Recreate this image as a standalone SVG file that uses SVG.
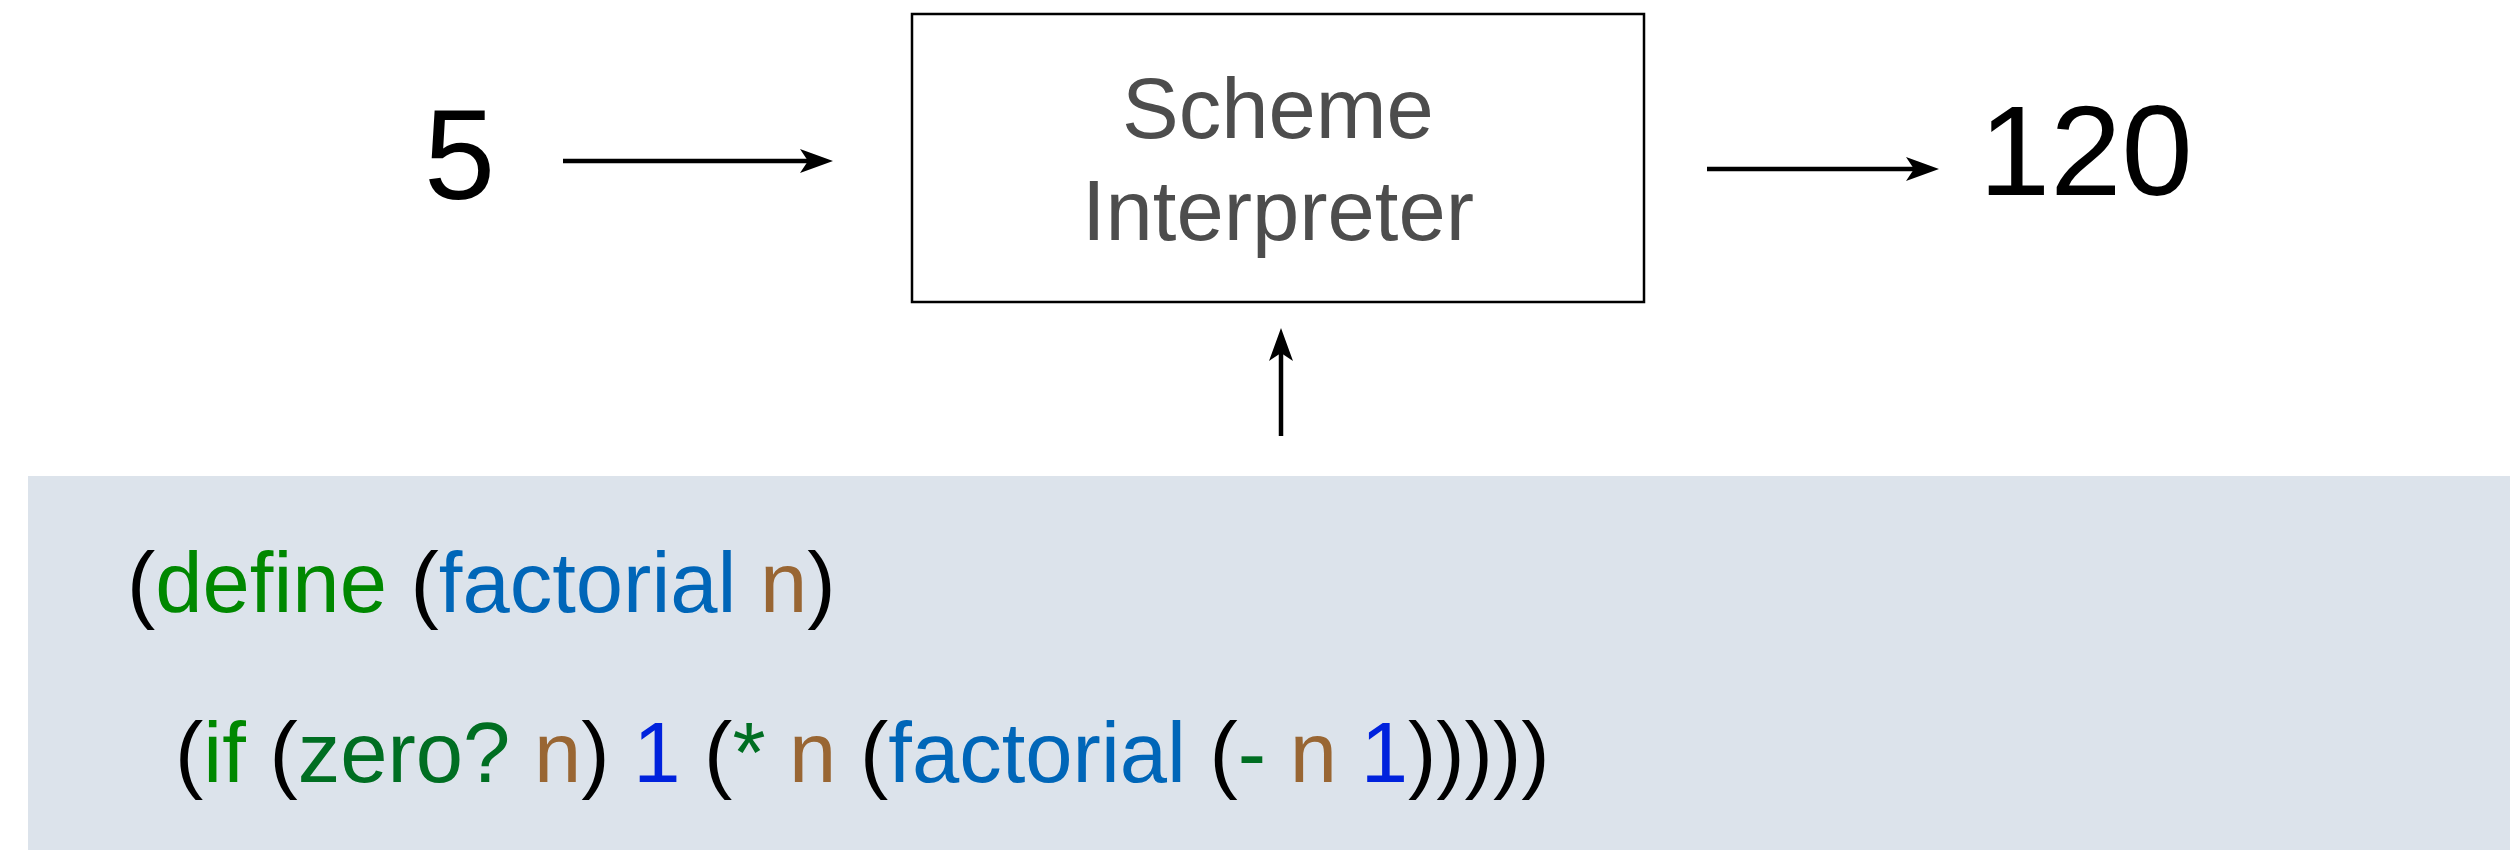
<svg xmlns="http://www.w3.org/2000/svg" width="2510" height="850" viewBox="0 0 2510 850">
  <style>
    .lbl { font-family: "Liberation Sans", Arial, sans-serif; }
    .num { font-size: 128px; fill: #000; }
    .box { fill: #fff; stroke: #000; stroke-width: 2.5; }
    .boxtxt { font-size: 85px; fill: #4d4d4d; text-anchor: middle; }
    .code { font-size: 85px; fill: #000; }
    .conn { stroke: #000; stroke-width: 4.5; fill: none; marker-end: url(#head); }
    .kw { fill: #008800; }
    .kw2 { fill: #006e22; }
    .fn { fill: #0066b8; }
    .var { fill: #996633; }
    .lit { fill: #0022dd; }
  </style>
  <defs>
    <marker id="head" viewBox="-34 -13 35 26" refX="-25" refY="0" markerWidth="35" markerHeight="26" markerUnits="userSpaceOnUse" orient="auto">
      <path d="M0,0 L-33,-12 L-25,0 L-33,12 Z" fill="#000"/>
    </marker>
  </defs>
  <rect width="2510" height="850" fill="#fff"/>

  <g id="source-code">
    <rect x="28" y="476" width="2482" height="374" fill="#dce3eb"/>
    <text class="lbl code" x="127" y="612">(<tspan class="kw">define</tspan> (<tspan class="fn">factorial</tspan> <tspan class="var">n</tspan>)</text>
    <text class="lbl code" x="175" y="782">(<tspan class="kw">if</tspan> (<tspan class="kw2">zero?</tspan> <tspan class="var">n</tspan>) <tspan class="lit">1</tspan> (<tspan class="kw2">*</tspan> <tspan class="var">n</tspan> (<tspan class="fn">factorial</tspan> (<tspan class="kw2">-</tspan> <tspan class="var">n</tspan> <tspan class="lit">1</tspan>)))))</text>
  </g>

  <g id="input">
    <text class="lbl num" x="424" y="199">5</text>
  </g>

  <g id="interpreter">
    <rect class="box" x="912" y="14" width="732" height="288"/>
    <text class="lbl boxtxt" x="1278" y="138">Scheme</text>
    <text class="lbl boxtxt" x="1278" y="240">Interpreter</text>
  </g>

  <g id="output">
    <text class="lbl num" x="1979" y="195">120</text>
  </g>

  <g id="connectors">
    <line class="conn" x1="563" y1="161" x2="808" y2="161"/>
    <line class="conn" x1="1707" y1="169" x2="1914" y2="169"/>
    <line class="conn" x1="1281" y1="436" x2="1281" y2="353"/>
  </g>
</svg>
